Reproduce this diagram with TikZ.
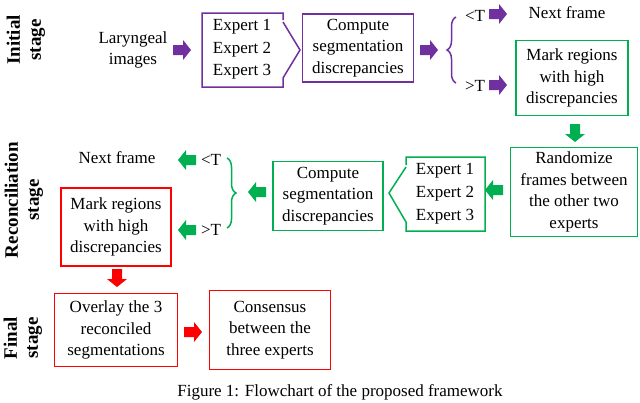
\documentclass[tikz,border=0pt]{standalone}
\usepackage{fontspec}
\setmainfont{Liberation Serif}
\usetikzlibrary{decorations.pathreplacing}
\definecolor{pp}{HTML}{7030A0}
\definecolor{gg}{HTML}{00B050}
\definecolor{rr}{HTML}{FF0000}
\begin{document}
\begin{tikzpicture}[x=1pt,y=-1pt,font=\fontsize{17}{21.5}\selectfont,
  box/.style={draw=#1,line width=1.5pt,align=center,inner sep=0pt},
  txt/.style={align=center,inner sep=0pt},
  fat/.pic={\fill[pic actions] (-9,-5) -- (1,-5) -- (1,-10) -- (9,0) -- (1,10) -- (1,5) -- (-9,5) -- cycle;},
  stage/.style={rotate=90,font=\fontsize{19}{21}\selectfont\bfseries,align=center,inner sep=0pt},
  br/.style={decorate,decoration={brace,amplitude=9pt},line width=1.5pt}]
\useasboundingbox (0,0) rectangle (640,402);
% stage labels
\node[stage] (s1) at (26,40) {Initial\\stage};
\node[stage] (s2) at (24,200) {Reconciliation\\stage};
\node[stage] (s3) at (23,338) {Final\\stage};
% initial stage
\node[txt] (lar) at (133,50) {Laryngeal\\images};
\pic[pp] (a1) at (182,50) {fat};
\draw[pp,line width=1.5pt] (283,20) -- (283,13) -- (202,13) -- (202,87) -- (283,87) -- (283,78) -- (300,50) -- (283,22);
\node[txt] (e11) at (242,27) {Expert 1};
\node[txt] (e12) at (242,50) {Expert 2};
\node[txt] (e13) at (242,72) {Expert 3};
\node[box=pp,minimum width=111pt,minimum height=68pt] (c1) at (358,48) {Compute\\segmentation\\discrepancies};
\pic[pp] (a2) at (429,50) {fat};
\draw[br,pp] (456,83) -- (456,17);
\node[txt] (lt1) at (475,16) {<T};
\pic[pp] (a3) at (498,14) {fat};
\node[txt] (nf1) at (567,13) {Next frame};
\node[txt] (gt1) at (475,86) {>T};
\pic[pp] (a4) at (498,85) {fat};
\node[box=gg,minimum width=112pt,minimum height=75pt] (m1) at (572,78) {Mark regions\\with high\\discrepancies};
\pic[gg,rotate=-90] (a5) at (575,133) {fat};
% reconciliation
\node[box=gg,minimum width=127pt,minimum height=89pt] (rnd) at (574,192) {Randomize\\frames between\\the other two\\experts};
\pic[gg,rotate=180] (a6) at (494,190) {fat};
\draw[gg,line width=1.5pt] (406,165) -- (406,157) -- (485,157) -- (485,231) -- (406,231) -- (406,222) -- (389,193) -- (406,167);
\node[txt] (e21) at (445,171) {Expert 1};
\node[txt] (e22) at (445,194) {Expert 2};
\node[txt] (e23) at (445,217) {Expert 3};
\node[box=gg,minimum width=110pt,minimum height=69pt] (c2) at (328,196) {Compute\\segmentation\\discrepancies};
\pic[gg,rotate=180] (a7) at (257,192) {fat};
\draw[br,gg] (227,158) -- (227,228);
\node[txt] (lt2) at (211,160) {<T};
\pic[gg,rotate=180] (a8) at (187,160) {fat};
\node[txt] (nf2) at (117,158) {Next frame};
\node[txt] (gt2) at (211,230) {>T};
\pic[gg,rotate=180] (a9) at (187,230) {fat};
\node[box=rr,minimum width=110pt,minimum height=78pt] (m2) at (116,227) {Mark regions\\with high\\discrepancies};
\pic[rr,rotate=-90] (a10) at (117,278) {fat};
% final
\node[box=rr,minimum width=123pt,minimum height=73pt] (ov) at (116,330) {Overlay the 3\\reconciled\\segmentations};
\pic[rr] (a11) at (193,332) {fat};
\node[box=rr,minimum width=121pt,minimum height=79pt] (cons) at (270,330) {Consensus\\between the\\three experts};
\node[txt] (cap) at (340,392) {Figure 1: Flowchart of the proposed framework};
\end{tikzpicture}
\end{document}
